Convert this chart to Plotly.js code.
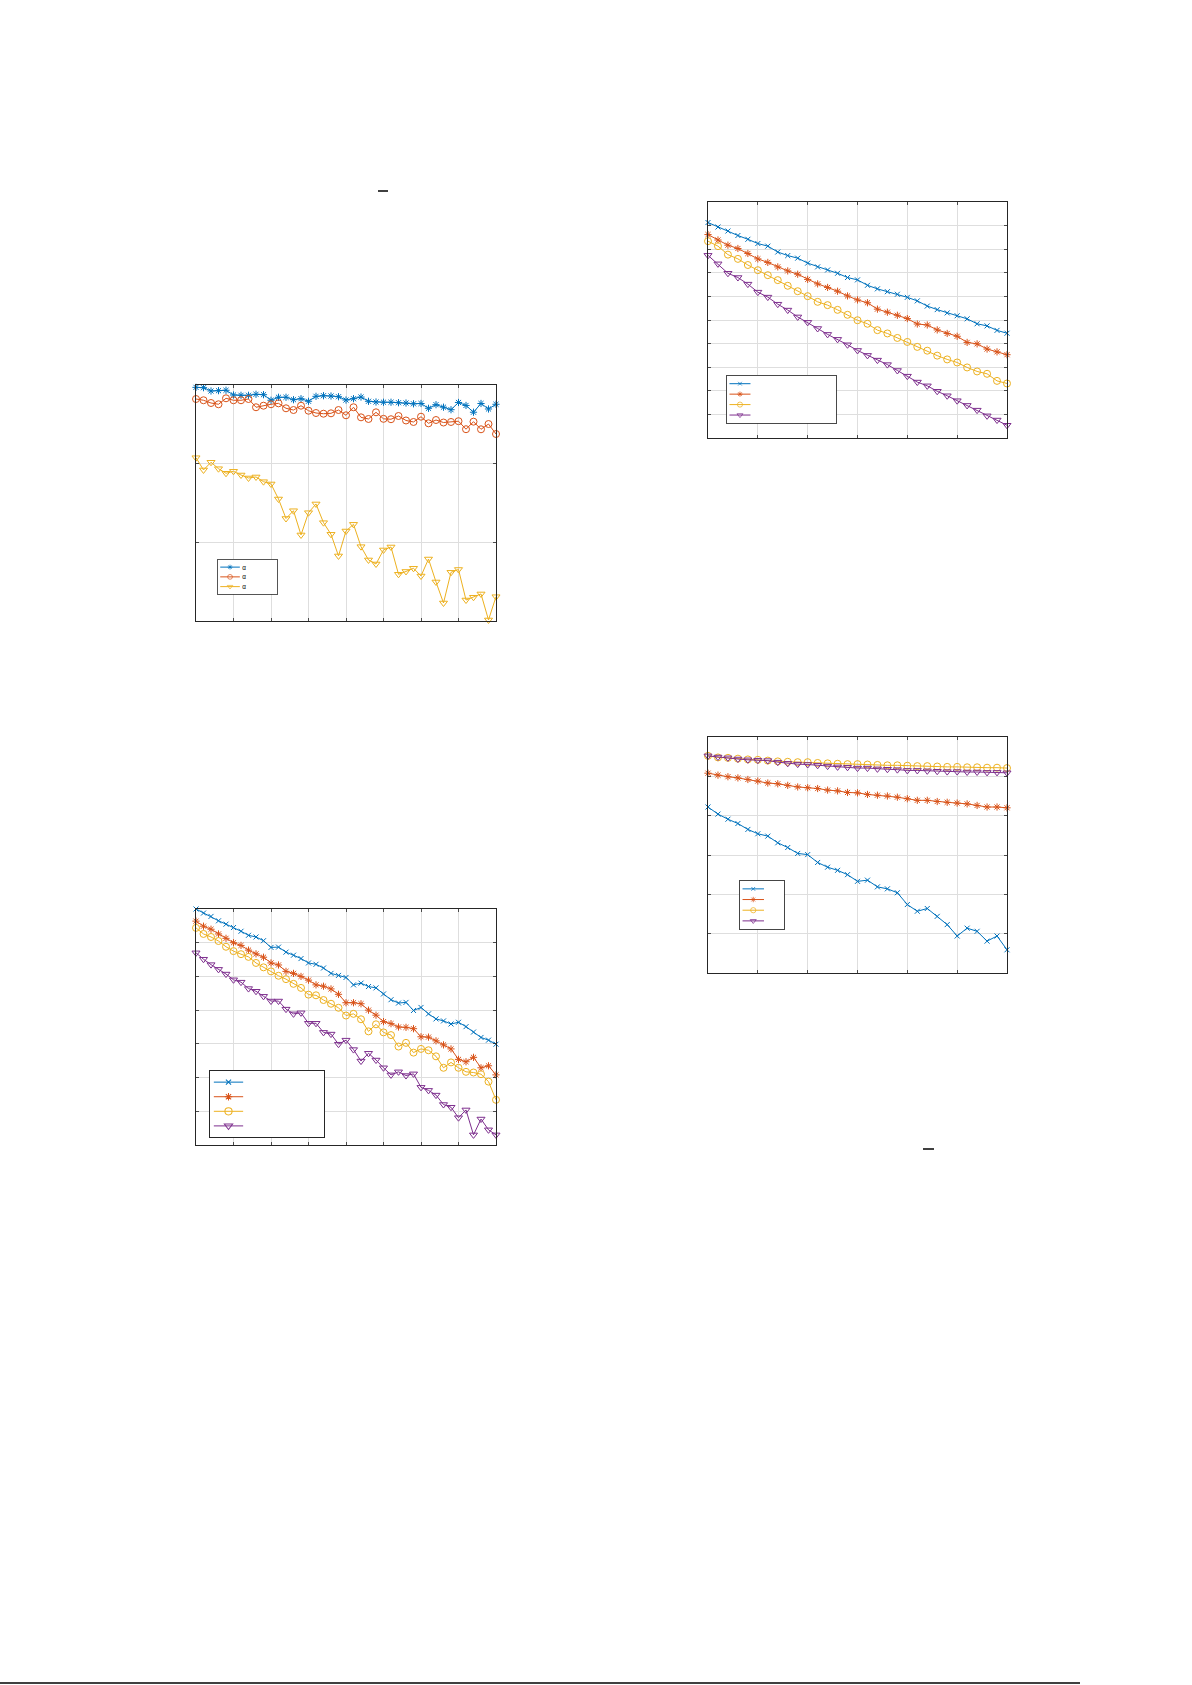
<!DOCTYPE html>
<html>
<head>
<meta charset="utf-8">
<script src="https://cdn.plot.ly/plotly-3.0.1.min.js"></script>
<style>
  html, body { margin: 0; padding: 0; background: #fff; }
  #chart { width: 1192px; height: 1685px; }
</style>
</head>
<body>
<div id="chart"></div>
<script>
"use strict"
// ---- data (iteration index vs. value) ----
const iters41 = [0,1,2,3,4,5,6,7,8,9,10,11,12,13,14,15,16,17,18,19,20,21,22,23,24,25,26,27,28,29,30,31,32,33,34,35,36,37,38,39,40];
const iters31 = [0,1,2,3,4,5,6,7,8,9,10,11,12,13,14,15,16,17,18,19,20,21,22,23,24,25,26,27,28,29,30];

// top-left panel (three alpha settings)
const p1Alpha1 = [0.997,0.9966,0.9924,0.9928,0.9933,0.9873,0.9869,0.9869,0.9882,0.9877,0.9806,0.9844,0.9844,0.9813,0.9826,0.9793,0.9856,0.9864,0.986,0.9851,0.9809,0.9826,0.9847,0.9793,0.9784,0.9781,0.9781,0.9775,0.9771,0.9761,0.9765,0.9704,0.975,0.9718,0.9686,0.9778,0.974,0.9654,0.9765,0.9695,0.9755];
const p1Alpha2 = [0.9822,0.9806,0.9771,0.9755,0.9831,0.9806,0.9806,0.9822,0.9717,0.9737,0.9755,0.9767,0.9704,0.9682,0.9737,0.9673,0.9644,0.9635,0.964,0.9682,0.9615,0.9717,0.9589,0.9568,0.9653,0.957,0.9565,0.9606,0.9549,0.953,0.9597,0.9513,0.9555,0.9523,0.953,0.954,0.9438,0.9534,0.9437,0.9504,0.9377];
const p1Alpha3 = [0.9076,0.892,0.9018,0.8936,0.8878,0.8903,0.8856,0.8818,0.8831,0.8771,0.8742,0.8551,0.8303,0.8402,0.8094,0.8377,0.8488,0.825,0.8102,0.7827,0.8144,0.8229,0.7945,0.7776,0.7725,0.7903,0.7941,0.7594,0.763,0.767,0.7572,0.7788,0.7496,0.7229,0.7619,0.7655,0.7267,0.7302,0.7344,0.7013,0.7309];
const p1Names = ["α", "α", "α"];

// top-right panel (four methods)
const p2A = [0.913,0.894,0.877,0.858,0.842,0.824,0.813,0.788,0.773,0.762,0.741,0.725,0.712,0.698,0.680,0.670,0.647,0.632,0.620,0.609,0.596,0.581,0.559,0.544,0.530,0.518,0.505,0.484,0.475,0.456,0.444];
const p2B = [0.862,0.839,0.817,0.803,0.782,0.759,0.744,0.725,0.708,0.694,0.672,0.653,0.638,0.622,0.602,0.585,0.573,0.546,0.533,0.520,0.506,0.483,0.479,0.458,0.443,0.431,0.405,0.399,0.377,0.365,0.353];
const p2C = [0.834,0.813,0.777,0.759,0.733,0.711,0.690,0.669,0.645,0.622,0.601,0.577,0.563,0.543,0.522,0.499,0.484,0.457,0.443,0.424,0.407,0.386,0.370,0.349,0.333,0.320,0.299,0.282,0.272,0.242,0.231];
const p2D = [0.774,0.738,0.698,0.680,0.652,0.618,0.597,0.567,0.542,0.513,0.490,0.464,0.439,0.418,0.395,0.371,0.350,0.330,0.311,0.286,0.262,0.237,0.221,0.198,0.179,0.158,0.138,0.118,0.094,0.076,0.054];

// bottom-left panel (four methods)
const p3A = [1.000,0.988,0.978,0.965,0.955,0.945,0.934,0.922,0.917,0.906,0.886,0.887,0.872,0.863,0.853,0.840,0.836,0.825,0.809,0.803,0.797,0.775,0.780,0.770,0.766,0.748,0.731,0.721,0.723,0.699,0.708,0.689,0.674,0.668,0.659,0.664,0.651,0.635,0.619,0.611,0.599];
const p3B = [0.964,0.949,0.940,0.926,0.913,0.900,0.892,0.878,0.867,0.857,0.840,0.834,0.815,0.809,0.800,0.789,0.775,0.771,0.763,0.747,0.722,0.722,0.719,0.700,0.685,0.666,0.660,0.650,0.649,0.645,0.621,0.620,0.609,0.597,0.585,0.554,0.547,0.560,0.529,0.535,0.508];
const p3C = [0.944,0.926,0.917,0.905,0.888,0.875,0.866,0.858,0.840,0.827,0.815,0.802,0.792,0.778,0.766,0.746,0.744,0.730,0.719,0.707,0.684,0.689,0.673,0.637,0.658,0.634,0.626,0.592,0.603,0.574,0.585,0.581,0.563,0.529,0.545,0.529,0.517,0.515,0.510,0.488,0.434];
const p3D = [0.870,0.851,0.835,0.821,0.807,0.790,0.783,0.764,0.756,0.741,0.727,0.727,0.703,0.689,0.692,0.661,0.661,0.634,0.629,0.599,0.611,0.583,0.549,0.572,0.552,0.529,0.508,0.517,0.506,0.511,0.471,0.462,0.448,0.420,0.412,0.381,0.404,0.330,0.377,0.345,0.330];

// bottom-right panel (four methods)
const p4A = [0.822,0.804,0.791,0.780,0.765,0.754,0.748,0.731,0.719,0.704,0.701,0.681,0.669,0.661,0.650,0.633,0.636,0.619,0.614,0.604,0.574,0.557,0.564,0.544,0.523,0.494,0.514,0.506,0.481,0.494,0.459];
const p4B = [0.908,0.903,0.899,0.896,0.892,0.888,0.883,0.881,0.877,0.873,0.871,0.869,0.865,0.863,0.859,0.858,0.854,0.852,0.850,0.847,0.843,0.839,0.839,0.836,0.834,0.832,0.830,0.826,0.822,0.822,0.820];
const p4C = [0.952,0.948,0.947,0.945,0.943,0.942,0.940,0.938,0.937,0.936,0.936,0.934,0.933,0.932,0.931,0.931,0.930,0.929,0.928,0.928,0.927,0.926,0.926,0.925,0.924,0.924,0.923,0.923,0.922,0.922,0.921];
const p4D = [0.952,0.949,0.947,0.944,0.942,0.941,0.940,0.936,0.933,0.931,0.930,0.928,0.926,0.924,0.923,0.921,0.921,0.919,0.918,0.917,0.915,0.915,0.914,0.913,0.912,0.912,0.911,0.911,0.910,0.910,0.909];

// ---- page geometry (pixels) ----
const W = 1192, H = 1685;
const C_BLUE = "#0072BD", C_ORANGE = "#D95319", C_YELLOW = "#EDB120", C_PURPLE = "#7E2F8E";
const BLANK = "\u00a0";

function px2x(px) { return px / W; }
function px2y(py) { return 1 - py / H; }

// one MATLAB-like axis: box, inner ticks, light grid, no labels
function mkAxis(x0, x1, range, dtick, anchor) {
    return {
        domain: [x0, x1], range: range, dtick: dtick, tick0: range[0], anchor: anchor,
        showticklabels: false, ticks: "inside", ticklen: 3, tickwidth: 0.8, tickcolor: "#262626",
        showline: true, linecolor: "#262626", linewidth: 1, mirror: "ticks",
        showgrid: true, gridcolor: "#dedede", gridwidth: 1, zeroline: false, fixedrange: true
    };
}

function mkTrace(x, y, color, symbol, size, name, xa, ya, legend) {
    return {
        x: x, y: y, name: name, type: "scatter", mode: "lines+markers",
        xaxis: xa, yaxis: ya, legend: legend, cliponaxis: false,
        line: { color: color, width: 1 },
        marker: { color: color, symbol: symbol, size: size, line: { color: color, width: 1 } }
    };
}

const traces = [
    mkTrace(iters41, p1Alpha1, C_BLUE, "asterisk-open", 6, p1Names[0], "x", "y", "legend"),
    mkTrace(iters41, p1Alpha2, C_ORANGE, "circle-open", 7, p1Names[1], "x", "y", "legend"),
    mkTrace(iters41, p1Alpha3, C_YELLOW, "triangle-down-open", 7, p1Names[2], "x", "y", "legend"),

    mkTrace(iters31, p2A, C_BLUE, "x-thin-open", 5, BLANK, "x2", "y2", "legend2"),
    mkTrace(iters31, p2B, C_ORANGE, "asterisk-open", 6, BLANK, "x2", "y2", "legend2"),
    mkTrace(iters31, p2C, C_YELLOW, "circle-open", 7, BLANK, "x2", "y2", "legend2"),
    mkTrace(iters31, p2D, C_PURPLE, "triangle-down-open", 7, BLANK, "x2", "y2", "legend2"),

    mkTrace(iters41, p3A, C_BLUE, "x-thin-open", 5, BLANK, "x3", "y3", "legend3"),
    mkTrace(iters41, p3B, C_ORANGE, "asterisk-open", 6, BLANK, "x3", "y3", "legend3"),
    mkTrace(iters41, p3C, C_YELLOW, "circle-open", 7, BLANK, "x3", "y3", "legend3"),
    mkTrace(iters41, p3D, C_PURPLE, "triangle-down-open", 7, BLANK, "x3", "y3", "legend3"),

    mkTrace(iters31, p4A, C_BLUE, "x-thin-open", 5, BLANK, "x4", "y4", "legend4"),
    mkTrace(iters31, p4B, C_ORANGE, "asterisk-open", 6, BLANK, "x4", "y4", "legend4"),
    mkTrace(iters31, p4C, C_YELLOW, "circle-open", 7, BLANK, "x4", "y4", "legend4"),
    mkTrace(iters31, p4D, C_PURPLE, "triangle-down-open", 7, BLANK, "x4", "y4", "legend4")
];

// legend boxes: top-left corner and target size in page pixels
const legendBoxes = [
    { id: "legend",  left: 217, top: 559,  w: 60,  h: 35 },
    { id: "legend2", left: 726, top: 375,  w: 110, h: 48 },
    { id: "legend3", left: 209, top: 1070, w: 115, h: 67 },
    { id: "legend4", left: 739, top: 880,  w: 45,  h: 49 }
];

function mkLegend(b) {
    return {
        x: px2x(b.left), y: px2y(b.top), xanchor: "left", yanchor: "top",
        bgcolor: "#ffffff", bordercolor: "#262626", borderwidth: 1.6,
        font: { family: "Liberation Sans, Arial, sans-serif", size: 13, color: "#000" },
        itemwidth: 40, tracegroupgap: 0
    };
}

const layout = {
    width: W, height: H,
    margin: { l: 0, r: 0, t: 0, b: 0 },
    paper_bgcolor: "#ffffff", plot_bgcolor: "#ffffff",
    font: { family: "Liberation Sans, Arial, sans-serif", size: 10, color: "#000" },
    showlegend: true,
    xaxis:  mkAxis(px2x(196), px2x(496), [0, 40], 5, "y"),
    yaxis:  mkAxis(px2y(621), px2y(385), [0.7, 1.0], 0.1, "x"),
    xaxis2: mkAxis(px2x(708), px2x(1007), [0, 30], 5, "y2"),
    yaxis2: mkAxis(px2y(438), px2y(202), [0, 1.0], 0.1, "x2"),
    xaxis3: mkAxis(px2x(196), px2x(496), [0, 40], 5, "y3"),
    yaxis3: mkAxis(px2y(1145), px2y(909), [0.3, 1.0], 0.1, "x3"),
    xaxis4: mkAxis(px2x(708), px2x(1007), [0, 30], 5, "y4"),
    yaxis4: mkAxis(px2y(973), px2y(737), [0.4, 1.0], 0.1, "x4"),
    legend: mkLegend(legendBoxes[0]),
    legend2: mkLegend(legendBoxes[1]),
    legend3: mkLegend(legendBoxes[2]),
    legend4: mkLegend(legendBoxes[3]),
    // stray overbars from the surrounding text and the page foot rule
    shapes: [
        { type: "line", xref: "paper", yref: "paper", x0: px2x(378), x1: px2x(388), y0: px2y(191), y1: px2y(191), line: { color: "#000", width: 1.5 } },
        { type: "line", xref: "paper", yref: "paper", x0: px2x(923), x1: px2x(934), y0: px2y(1149), y1: px2y(1149), line: { color: "#000", width: 1.5 } },
        { type: "line", xref: "paper", yref: "paper", x0: 0, x1: px2x(1080), y0: px2y(1683), y1: px2y(1683), line: { color: "#000", width: 1.5 } }
    ]
};

// Plotly keeps every legend row at least 19px tall, the page legends are much tighter,
// so shrink each legend group to its box after drawing.
function fitLegends(gd) {
    for (let b of legendBoxes) {
        let g = gd.querySelector("g." + b.id);
        if (!g) continue;
        let bg = g.querySelector("rect.bg");
        if (!bg) continue;
        let h = parseFloat(bg.getAttribute("height"));
        if (!h) continue;
        let s = b.h / h;
        let t = g.getAttribute("transform") || "";
        g.setAttribute("transform", t + " scale(" + s + ")");
        bg.setAttribute("width", b.w / s);
        // keep the sample lines about 1px and the symbols readable after shrinking
        g.querySelectorAll("path.js-line").forEach(function (p) {
            p.style.strokeWidth = (1 / s) + "px";
        });
        g.querySelectorAll("path.scatterpts").forEach(function (p) {
            let pt = p.getAttribute("transform") || "";
            p.setAttribute("transform", pt + " scale(1.4)");
        });
    }
}

Plotly.newPlot("chart", traces, layout, { displayModeBar: false, staticPlot: true })
    .then(fitLegends);
</script>
</body>
</html>
